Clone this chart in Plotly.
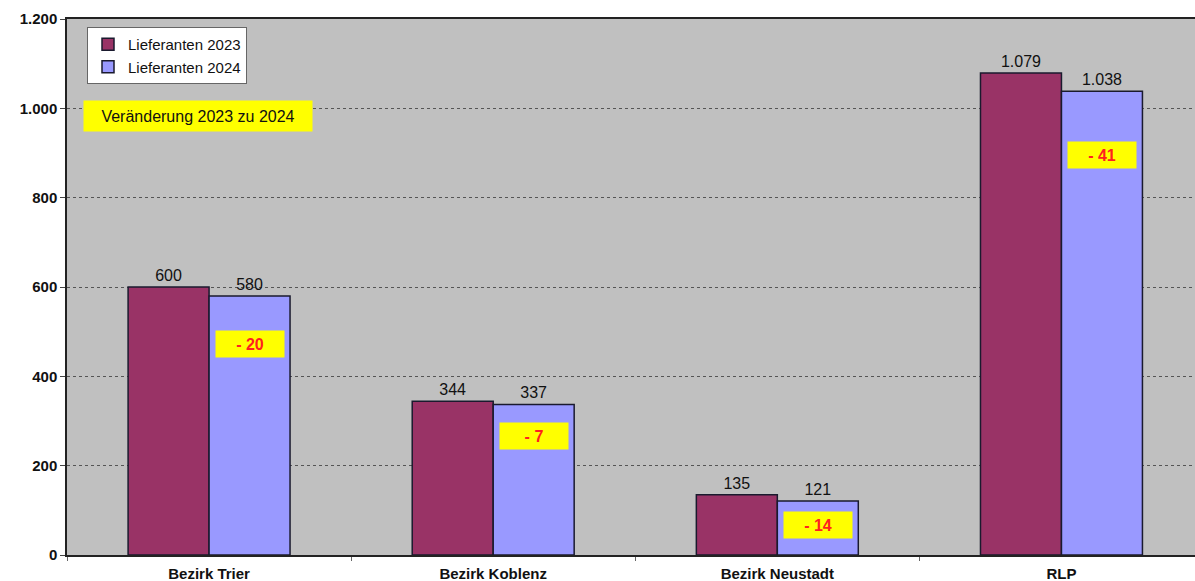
import plotly.graph_objects as go

categories = ["Bezirk Trier", "Bezirk Koblenz", "Bezirk Neustadt", "RLP"]
values_2023 = [600, 344, 135, 1079]
values_2024 = [580, 337, 121, 1038]
change_labels = ["- 20", "- 7", "- 14", "- 41"]
change_label_y = [473, 267, 67, 895]
y_ticks = [0, 200, 400, 600, 800, 1000, 1200]

bargap = 0.43
font_family = "Liberation Sans, Arial, sans-serif"

fig = go.Figure()
fig.add_trace(go.Bar(
    x=categories, y=values_2023, name="Lieferanten 2023",
    marker=dict(color="#993366", line=dict(color="#1a1a2e", width=1.5)),
    texttemplate="%{y:,}", textposition="outside",
    textfont=dict(size=16, color="#111111", family=font_family),
    cliponaxis=False,
))
fig.add_trace(go.Bar(
    x=categories, y=values_2024, name="Lieferanten 2024",
    marker=dict(color="#9999FF", line=dict(color="#1a1a2e", width=1.5)),
    texttemplate="%{y:,}", textposition="outside",
    textfont=dict(size=16, color="#111111", family=font_family),
    cliponaxis=False,
))

offset = (1 - bargap) / 4
for i, (lab, yv) in enumerate(zip(change_labels, change_label_y)):
    fig.add_annotation(
        x=i + offset, y=yv, xref="x", yref="y", text="<b>" + lab + "</b>",
        showarrow=False, bgcolor="#FFFF00", width=66, height=24,
        font=dict(size=16, color="#FF2020", family=font_family),
        align="center",
    )

fig.add_annotation(
    xref="paper", yref="paper", x=(83 - 67) / 1128, y=(554 - 116) / 535,
    xanchor="left", yanchor="middle", text="Veränderung 2023 zu 2024",
    showarrow=False, bgcolor="#FFFF00", width=226, height=28,
    font=dict(size=16, color="#111111", family=font_family),
)

fig.update_layout(
    width=1195, height=581,
    margin=dict(l=67, r=0, t=19, b=26),
    paper_bgcolor="white", plot_bgcolor="#C0C0C0",
    barmode="group", bargap=bargap, bargroupgap=0,
    separators=",.",
    font=dict(family=font_family, color="#111111"),
    showlegend=True,
    legend=dict(
        x=(87 - 67) / 1128, y=(554 - 27) / 535, xanchor="left", yanchor="top",
        bgcolor="white", bordercolor="#666666", borderwidth=1,
        font=dict(size=15, color="#111111", family=font_family),
        itemwidth=30, tracegroupgap=0,
    ),
    xaxis=dict(
        range=[-0.5, 3.47], showline=True, linecolor="#222222", linewidth=1.5,
        mirror=True, ticks="outside", tickson="boundaries", ticklen=4,
        tickcolor="#666666", showgrid=False, ticklabelstandoff=4,
        tickfont=dict(size=15, color="#111111", family=font_family, weight="bold"),
    ),
    yaxis=dict(
        range=[0, 1200], tickvals=y_ticks, showline=True, linecolor="#222222",
        linewidth=1.5, ticks="outside", ticklen=5, tickcolor="#444444",
        showgrid=True, gridcolor="#555555", griddash="dot", gridwidth=1,
        tickformat=",",
        tickfont=dict(size=15, color="#111111", family=font_family, weight="bold"),
        zeroline=False,
    ),
)

fig.write_html(
    "out.html",
    config={"displayModeBar": False},
    post_script="document.body.style.margin='0';document.body.style.overflow='hidden';",
)
